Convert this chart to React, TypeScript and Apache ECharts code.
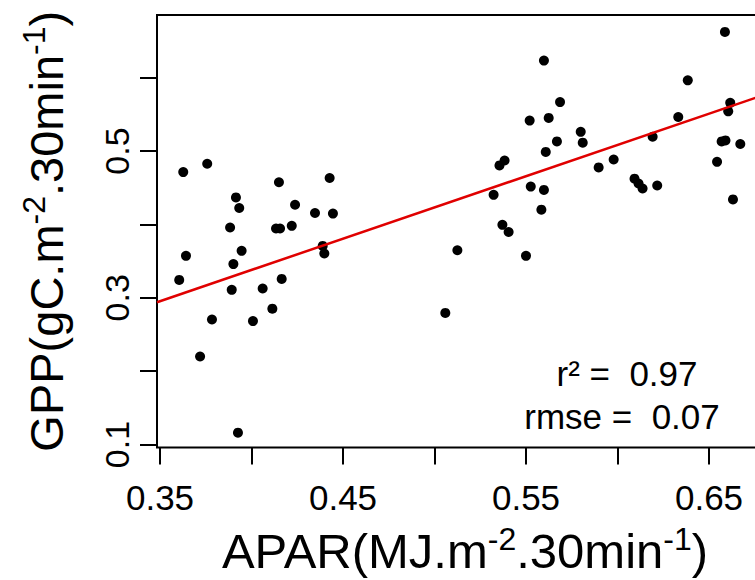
import React, { useEffect, useRef } from "react";
import * as echarts from "echarts";

const apar = [
  0.3605, 0.3642, 0.3627, 0.3758, 0.3719, 0.3784, 0.3883, 0.3915, 0.3933, 0.3926,
  0.3901, 0.3892, 0.3946, 0.4008, 0.4061, 0.4114, 0.4134, 0.4156, 0.4150, 0.4220,
  0.4238, 0.4165, 0.4347, 0.4389, 0.4398, 0.4427, 0.4445,
  0.5059, 0.5125, 0.5323, 0.5355, 0.5383, 0.5371, 0.5405, 0.5500, 0.5520, 0.5526,
  0.5584, 0.5598, 0.5598, 0.5608, 0.5624, 0.5669, 0.5686, 0.5799, 0.5810, 0.5897,
  0.5979, 0.6093, 0.6115, 0.6137, 0.6192, 0.6217, 0.6332, 0.6384, 0.6544, 0.6569,
  0.6590, 0.6587, 0.6605, 0.6616, 0.6631, 0.6671,
];
const gpp = [
  0.3243, 0.3572, 0.4713, 0.4827, 0.2200, 0.2704, 0.3958, 0.4368, 0.4224, 0.1162,
  0.3459, 0.3108, 0.3640, 0.2682, 0.3127, 0.2852, 0.3944, 0.3944, 0.4574, 0.3981,
  0.4268, 0.3257, 0.4156, 0.3707, 0.3603, 0.4632, 0.4147,
  0.2794, 0.3648, 0.4403, 0.4804, 0.4871, 0.3994, 0.3896, 0.3572, 0.5415, 0.4516,
  0.4201, 0.4470, 0.6233, 0.4988, 0.5451, 0.5131, 0.5667, 0.5262, 0.5114, 0.4777,
  0.4885, 0.4623, 0.4557, 0.4489, 0.5195, 0.4530, 0.5464, 0.5964, 0.4853, 0.5131,
  0.5145, 0.6624, 0.5541, 0.5657, 0.4341, 0.5096,
];

// fitted regression line, drawn across the plot region
const fitX = [0.34836, 0.68497];
const fitY = [0.2939, 0.5807];

// axis extents and ticks
const xRange = [0.34836, 0.68497];
const yRange = [0.09595, 0.6854];
const xTicks = [0.35, 0.4, 0.45, 0.5, 0.55, 0.6, 0.65];
const xLabels = [0.35, 0.45, 0.55, 0.65];
const yTicks = [0.1, 0.2, 0.3, 0.4, 0.5, 0.6];
const yLabels = [0.1, 0.3, 0.5];

const statsLines = ["r\u00b2 =  0.97", "rmse =  0.07"];

const FONT = "'Liberation Sans', Arial, Helvetica, sans-serif";

export default function App() {
  const ref = useRef<HTMLDivElement>(null);

  useEffect(() => {
    if (!ref.current) return;
    const chart = echarts.init(ref.current, null, { renderer: "svg" });
    const points = apar.map((x, i) => [x, gpp[i]]);
    const fit = fitX.map((x, i) => [x, fitY[i]]);

    const titleRich = (main: number, sup: number) => ({
      m: { fontSize: main, fontFamily: FONT, color: "#000", lineHeight: 56 },
      s: { fontSize: sup, fontFamily: FONT, color: "#000", lineHeight: 6, verticalAlign: "top" },
    });

    chart.setOption({
      animation: false,
      backgroundColor: "#fff",
      grid: {
        left: 157,
        top: 15,
        width: 616,
        height: 437,
        show: true,
        borderColor: "#000",
        borderWidth: 2,
        backgroundColor: "transparent",
      },
      xAxis: {
        type: "value",
        min: xRange[0],
        max: xRange[1],
        axisLine: { show: false },
        splitLine: { show: false },
        axisTick: {
          show: true,
          inside: false,
          length: 17,
          customValues: xTicks,
          lineStyle: { color: "#000", width: 2 },
        },
        axisLabel: {
          customValues: xLabels,
          formatter: (v: number) => v.toFixed(2),
          fontSize: 35,
          fontFamily: FONT,
          color: "#000",
          margin: 32,
        },
        name: "{m|APAR(MJ.m}{s|-2}{m|.30min}{s|-1}{m|)}",
        nameLocation: "middle",
        nameGap: 75,
        nameTextStyle: { rich: titleRich(49, 32) },
      },
      yAxis: {
        type: "value",
        min: yRange[0],
        max: yRange[1],
        axisLine: { show: false },
        splitLine: { show: false },
        axisTick: {
          show: true,
          inside: false,
          length: 17,
          customValues: yTicks,
          lineStyle: { color: "#000", width: 2 },
        },
        axisLabel: {
          customValues: yLabels,
          formatter: (v: number) => v.toFixed(1),
          rotate: 90,
          fontSize: 34,
          fontFamily: FONT,
          color: "#000",
          margin: 23,
        },
        name: "{m|GPP(gC.m}{s|-2}{m|.30min}{s|-1}{m|)}",
        nameLocation: "middle",
        nameRotate: 90,
        nameGap: 83,
        nameTextStyle: { rich: titleRich(47, 32) },
      },
      series: [
        {
          type: "scatter",
          data: points,
          symbol: "circle",
          symbolSize: 10,
          itemStyle: { color: "#000", opacity: 1 },
          silent: true,
          z: 2,
        },
        {
          type: "line",
          data: fit,
          symbol: "none",
          lineStyle: { color: "#e00000", width: 2.5 },
          silent: true,
          z: 3,
        },
      ],
      graphic: [
        {
          type: "text",
          x: 627,
          y: 373,
          style: {
            text: statsLines[0],
            fontSize: 35,
            fontFamily: FONT,
            fill: "#000",
            textAlign: "center",
            textVerticalAlign: "middle",
          },
        },
        {
          type: "text",
          x: 622,
          y: 416,
          style: {
            text: statsLines[1],
            fontSize: 35,
            fontFamily: FONT,
            fill: "#000",
            textAlign: "center",
            textVerticalAlign: "middle",
          },
        },
      ],
    });

    return () => chart.dispose();
  }, []);

  return (
    <div
      style={{
        position: "fixed",
        left: 0,
        top: 0,
        width: 755,
        height: 580,
        overflow: "hidden",
        background: "#fff",
      }}
    >
      <div ref={ref} style={{ width: 800, height: 580 }} />
    </div>
  );
}
